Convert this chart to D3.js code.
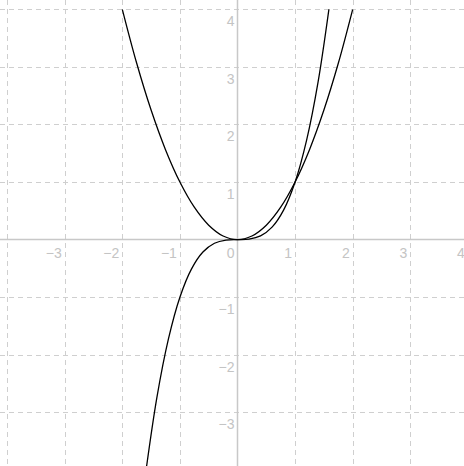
<!DOCTYPE html>
<html>
<head>
<meta charset="utf-8">
<script src="https://cdn.jsdelivr.net/npm/d3@7"></script>
<style>
  body { margin: 0; background: #fff; }
  svg { display: block; }
</style>
</head>
<body>
<svg width="464" height="466"></svg>
<script>
// grid/tick values
const gridX = [-4, -3, -2, -1, 1, 2, 3, 4];
const gridY = [-3, -2, -1, 1, 2, 3, 4];
const xLabels = [-3, -2, -1, 0, 1, 2, 3, 4];
const yLabels = [4, 3, 2, 1, -1, -2, -3];

// y = x^2
const parabolaX = [-2, -1.75, -1.5, -1.25, -1, -0.75, -0.5, -0.25, 0, 0.25, 0.5, 0.75, 1, 1.25, 1.5, 1.75, 2];
const parabolaY = [4, 3.0625, 2.25, 1.5625, 1, 0.5625, 0.25, 0.0625, 0, 0.0625, 0.25, 0.5625, 1, 1.5625, 2.25, 3.0625, 4];

// y = x^3
const cubicX = [-1.6, -1.4, -1.2, -1, -0.8, -0.6, -0.4, -0.2, 0, 0.2, 0.4, 0.6, 0.8, 1, 1.2, 1.4, 1.6];
const cubicY = [-4.096, -2.744, -1.728, -1, -0.512, -0.216, -0.064, -0.008, 0, 0.008, 0.064, 0.216, 0.512, 1, 1.728, 2.744, 4.096];

const width = 464, height = 466;
const svg = d3.select("svg");

const x = d3.scaleLinear().domain([-4, 4]).range([7.1, 467.9]);
const y = d3.scaleLinear().domain([-4, 4]).range([469.9, 9.3]);

const fmt = v => v < 0 ? "\u2212" + Math.abs(v) : String(v);

// dashed grid
svg.append("g").selectAll("line")
    .data(gridX)
    .enter().append("line")
    .attr("x1", d => Math.round(x(d)) + 0.5)
    .attr("x2", d => Math.round(x(d)) + 0.5)
    .attr("y1", 0)
    .attr("y2", height)
    .attr("stroke", "#cfcfcf")
    .attr("stroke-dasharray", "5,4");

svg.append("g").selectAll("line")
    .data(gridY)
    .enter().append("line")
    .attr("y1", d => Math.round(y(d)) + 0.5)
    .attr("y2", d => Math.round(y(d)) + 0.5)
    .attr("x1", 0)
    .attr("x2", width)
    .attr("stroke", "#cfcfcf")
    .attr("stroke-dasharray", "5,4");

// axes
svg.append("line")
    .attr("x1", 0).attr("x2", width)
    .attr("y1", y(0)).attr("y2", y(0))
    .attr("stroke", "#c8c8c8")
    .attr("stroke-width", 1.5);

svg.append("line")
    .attr("x1", x(0)).attr("x2", x(0))
    .attr("y1", 0).attr("y2", height)
    .attr("stroke", "#c8c8c8")
    .attr("stroke-width", 1.5);

// tick labels
const labelStyle = sel => sel
    .attr("font-family", "'Liberation Sans', Arial, sans-serif")
    .attr("font-size", 14)
    .attr("fill", "#c4c4c4")
    .attr("text-anchor", "end");

svg.append("g").selectAll("text")
    .data(xLabels)
    .enter().append("text")
    .attr("x", d => x(d) - 3)
    .attr("y", y(0) + 18)
    .text(fmt)
    .call(labelStyle);

svg.append("g").selectAll("text")
    .data(yLabels)
    .enter().append("text")
    .attr("x", x(0) - 3)
    .attr("y", d => y(d) + 17)
    .text(fmt)
    .call(labelStyle);

// curves
svg.append("defs").append("clipPath")
    .attr("id", "plot")
    .append("rect")
    .attr("x", 0)
    .attr("y", y(4))
    .attr("width", width)
    .attr("height", height - y(4));

const line = d3.line()
    .x(d => x(d[0]))
    .y(d => y(d[1]))
    .curve(d3.curveCatmullRom);

const curves = [
    d3.zip(parabolaX, parabolaY),
    d3.zip(cubicX, cubicY)
];

svg.append("g")
    .attr("clip-path", "url(#plot)")
    .selectAll("path")
    .data(curves)
    .enter().append("path")
    .attr("d", line)
    .attr("fill", "none")
    .attr("stroke", "#000")
    .attr("stroke-width", 1.3);
</script>
</body>
</html>
